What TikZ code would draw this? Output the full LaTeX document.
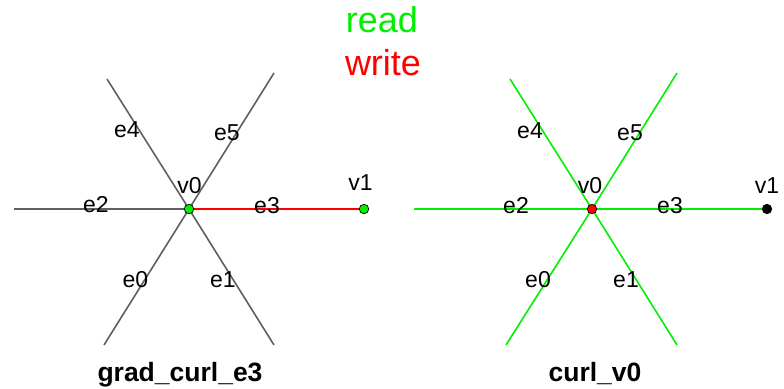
\documentclass[tikz,border=0pt]{standalone}
\usepackage{fontspec}
\setmainfont{Liberation Sans}
\definecolor{edgegray}{HTML}{606060}
\definecolor{rdgreen}{HTML}{00F000}
\definecolor{wrred}{HTML}{FF0000}
\begin{document}
\begin{tikzpicture}[x=1pt,y=-1pt,
  lbl/.style={anchor=base,inner sep=0pt,font=\fontsize{23}{27}\selectfont},
  ttl/.style={anchor=base,inner sep=0pt,font=\fontsize{26.5}{30}\selectfont\bfseries},
  hdr/.style={anchor=base,inner sep=0pt,font=\fontsize{36}{40}\selectfont},
  grayedge/.style={draw=edgegray,line width=1.6pt},
  greenedge/.style={draw=rdgreen,line width=1.6pt},
  rededge/.style={draw=wrred,line width=1.6pt},
  dot/.style={circle,draw=black,line width=0.7pt,minimum size=9.5pt,inner sep=0pt}]
\useasboundingbox (0,0) rectangle (784,388);
% header
\node[hdr,text=rdgreen] (read) at (382,32) {read};
\node[hdr,text=wrred] (write) at (383,75) {write};
% ---------- left diagram ----------
\coordinate (Lv0) at (189,209);
\coordinate (Lv1) at (364,209);
\coordinate (Le2end) at (14,209);
\coordinate (Le4end) at (107,79);
\coordinate (Le5end) at (274,73);
\coordinate (Le0end) at (104,345);
\coordinate (Le1end) at (274,345);
\draw[grayedge] (Le2end) -- (Lv0);
\draw[grayedge] (Le4end) -- (Lv0);
\draw[grayedge] (Le5end) -- (Lv0);
\draw[grayedge] (Le0end) -- (Lv0);
\draw[grayedge] (Le1end) -- (Lv0);
\draw[rededge] (Lv0) -- (Lv1);
\node[dot,fill=rdgreen] (Lv0dot) at (Lv0) {};
\node[dot,fill=rdgreen] (Lv1dot) at (Lv1) {};
\node[lbl] (Le4) at (127,137) {e4};
\node[lbl] (Le5) at (227,140) {e5};
\node[lbl] (Lv0l) at (189.5,193) {v0};
\node[lbl] (Le2) at (96,212) {e2};
\node[lbl] (Le3) at (267,213) {e3};
\node[lbl] (Lv1l) at (360.5,190) {v1};
\node[lbl] (Le0) at (135.5,287) {e0};
\node[lbl] (Le1) at (223,287) {e1};
\node[ttl] (Ltitle) at (180,381) {grad\_curl\_e3};
% ---------- right diagram ----------
\coordinate (Rv0) at (592,209);
\coordinate (Rv1) at (767,209);
\coordinate (Re2end) at (414,209);
\coordinate (Re4end) at (510,79);
\coordinate (Re5end) at (677,73);
\coordinate (Re0end) at (506,345);
\coordinate (Re1end) at (677,345);
\draw[greenedge] (Re2end) -- (Rv0);
\draw[greenedge] (Re4end) -- (Rv0);
\draw[greenedge] (Re5end) -- (Rv0);
\draw[greenedge] (Re0end) -- (Rv0);
\draw[greenedge] (Re1end) -- (Rv0);
\draw[greenedge] (Rv0) -- (Rv1);
\node[dot,fill=wrred] (Rv0dot) at (Rv0) {};
\node[dot,fill=black] (Rv1dot) at (Rv1) {};
\node[lbl] (Re4) at (530,138) {e4};
\node[lbl] (Re5) at (630,140) {e5};
\node[lbl] (Rv0l) at (590,193) {v0};
\node[lbl] (Re2) at (516,213) {e2};
\node[lbl] (Re3) at (670,213) {e3};
\node[lbl] (Rv1l) at (767,193) {v1};
\node[lbl] (Re0) at (538,287) {e0};
\node[lbl] (Re1) at (626,287) {e1};
\node[ttl] (Rtitle) at (595,381) {curl\_v0};
\end{tikzpicture}
\end{document}
